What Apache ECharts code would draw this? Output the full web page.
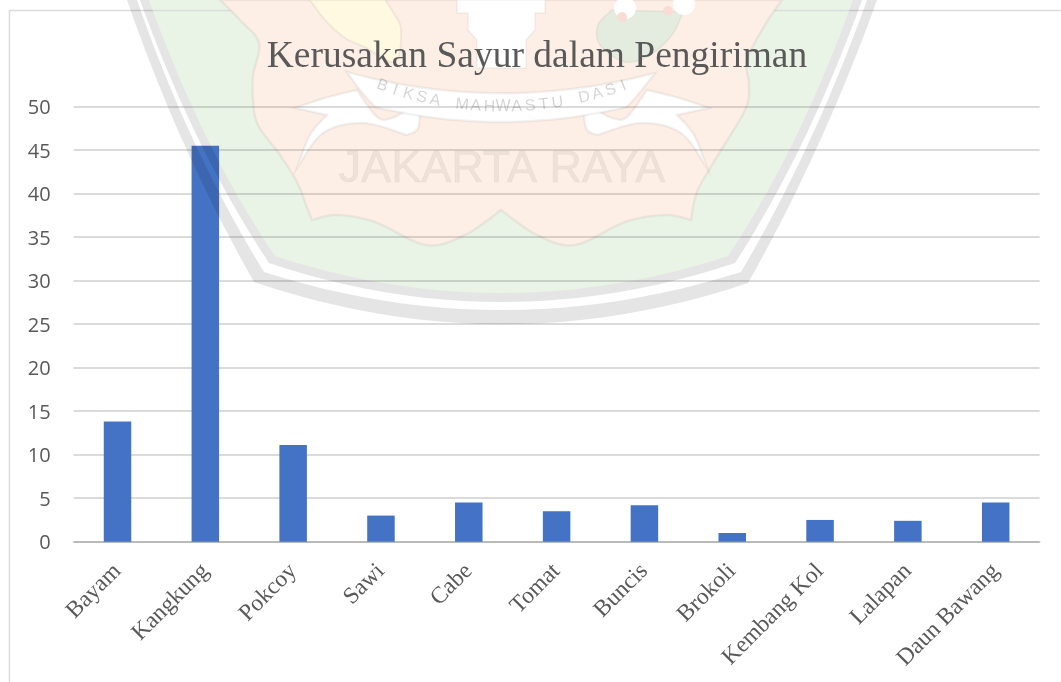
<!DOCTYPE html>
<html>
<head>
<meta charset="utf-8">
<style>html,body{margin:0;padding:0;background:#fff}#c{width:1061px;height:682px}</style>
<script src="https://cdn.jsdelivr.net/npm/echarts@6/dist/echarts.min.js"></script>
</head>
<body>
<div id="c"></div>
<script>
var chartTitle = 'Kerusakan Sayur dalam Pengiriman';
var categories = ['Bayam','Kangkung','Pokcoy','Sawi','Cabe','Tomat','Buncis','Brokoli','Kembang Kol','Lalapan','Daun Bawang'];
var damage = [13.8,45.5,11.1,3,4.5,3.5,4.2,1,2.5,2.4,4.5];
var watermarkName = 'JAKARTA RAYA';
var watermarkMotto = 'BIKSA MAHWASTU DASI';

// --- background watermark helpers (decoration only, no data) ---
function q(a,c,b){var r=[];for(var i=0;i<=24;i++){var t=i/24,u=1-t;r.push([u*u*a[0]+2*u*t*c[0]+t*t*b[0],u*u*a[1]+2*u*t*c[1]+t*t*b[1]]);}return r;}
function cr(p){var r=[];for(var i=0;i<p.length-1;i++){var p0=p[Math.max(i-1,0)],p1=p[i],p2=p[i+1],p3=p[Math.min(i+2,p.length-1)];
  for(var k=0;k<10;k++){var t=k/10,t2=t*t,t3=t2*t;r.push([0,1].map(function(d){return .5*(2*p1[d]+(p2[d]-p0[d])*t+(2*p0[d]-5*p1[d]+4*p2[d]-p3[d])*t2+(3*p1[d]-p0[d]-3*p2[d]+p3[d])*t3);}));}}
  r.push(p[p.length-1]);return r;}
function poly(points,style,z){return {type:'polygon',z:z,silent:true,shape:{points:points},style:style};}
function shield(tl,lc,ll,by,lr,rc,tr){
  return q(tl,lc,ll).concat(q(ll,[501,by],lr).slice(1),q(lr,rc,tr).slice(1));}

var outerA=shield([127,0],[179,150],[254,282],366,[748,283],[823,150],[877,0]);
var outerB=shield([137,0],[189,150],[264,272],348,[741,272],[813,150],[867,0]);
var innerA=shield([140,0],[194,150],[269,263],341,[735,263],[808,150],[862,0]);
var innerB=shield([149,0],[203,150],[275,256],330,[728,256],[799,150],[853,0]);

var orange=cr([[220,0],[240,20],[259,43],[253,75],[253,100],[258,125],[280,155],[297,182],[306,205],[312,220]])
 .concat(cr([[312,220],[337,215],[375,222],[426,245],[465,235],[501,210]]).slice(1))
 .concat(cr([[501,210],[537,235],[575,245],[625,222],[665,215],[691,220]]).slice(1))
 .concat(cr([[691,220],[697,192],[715,160],[745,110],[749,85],[747,60],[765,25],[782,0]]).slice(1));

var tailL=cr([[295,108],[325,98],[357,90]]).concat(cr([[357,90],[377,117],[392,118],[417,107],[418,128],[407,135]]).slice(1)).concat(cr([[407,135],[363,123],[323,133],[297,168]]).slice(1)).concat(cr([[297,168],[310,135],[327,115]]).slice(1));
var tailR=tailL.map(function(p){return [1004-p[0],p[1]];});
var ribbon=q([347,72],[500,114],[655,73]).concat(cr([[655,73],[640,92],[627,107]]).slice(1)).concat(q([627,107],[500,137],[375,107]).slice(1)).concat(cr([[375,107],[360,90],[347,72]]).slice(1));
var pillar=[[457,0],[545,0],[545,13],[535,13],[535,30],[526,40],[526,68],[477,68],[477,40],[468,30],[468,13],[457,13]];
var wheatL=cr([[310,0],[325,20],[345,38],[365,47]]).concat(cr([[365,47],[395,62],[401,30],[393,12],[385,0]]).slice(1));
var leaf=cr([[612,10],[598,25],[600,45],[625,62],[650,55],[672,35],[683,12]]);

var G='rgba(0,0,0,0.05)';
var wm=[
 poly(innerB,{fill:'#E9F4E6'},-5),
 poly(orange,{fill:'#FDEFE6',stroke:G,lineWidth:2.5},-4),
 poly(wheatL,{fill:'#FEF9E0',stroke:G,lineWidth:2},-3),
 poly(leaf,{fill:'#E3ECDF',stroke:G,lineWidth:1.5},-3),
 {type:'circle',z:-3,silent:true,shape:{cx:625,cy:8,r:11},style:{fill:'#fff'}},
 {type:'circle',z:-3,silent:true,shape:{cx:684,cy:4,r:11},style:{fill:'#fff'}},
 {type:'circle',z:-3,silent:true,shape:{cx:622,cy:17,r:5},style:{fill:'#F8DDD6'}},
 {type:'circle',z:-3,silent:true,shape:{cx:668,cy:11,r:5},style:{fill:'#F8DDD6'}},
 poly(pillar,{fill:'#fff',stroke:G,lineWidth:1.5},-3),
 poly(tailL,{fill:'#fff',stroke:G,lineWidth:2.5},-2),
 poly(tailR,{fill:'#fff',stroke:G,lineWidth:2.5},-2),
 poly(ribbon,{fill:'#fff',stroke:G,lineWidth:2.5},-2),
 {type:'text',z:-1,silent:true,style:{text:watermarkName,x:502,y:170,align:'center',verticalAlign:'middle',font:'45px "Liberation Sans"',fill:'rgba(0,0,0,0.055)',stroke:'rgba(0,0,0,0.04)',lineWidth:1}},
 poly(outerA.concat(outerB.slice().reverse()),{fill:'rgba(0,0,0,0.1)'},50),
 poly(innerA.concat(innerB.slice().reverse()),{fill:'rgba(0,0,0,0.1)'},50),
 {type:'rect',z:-5,silent:true,shape:{x:9.5,y:10.5,width:1200,height:900},style:{fill:'none',stroke:'#dcdcdc',lineWidth:1.5}}
];
watermarkMotto.split('').forEach(function(ch,i,arr){
  if(ch===' ')return;
  var a=(i-(arr.length-1)/2)*2.22*Math.PI/180, R=353;
  wm.push({type:'text',z:-1,silent:true,x:503+R*Math.sin(a),y:-246+R*Math.cos(a),rotation:a,
    style:{text:ch,x:0,y:0,align:'center',verticalAlign:'middle',font:'16px "Liberation Sans"',fill:'rgba(0,0,0,0.17)'}});
});

var chart=echarts.init(document.getElementById('c'),null,{renderer:'canvas'});
chart.setOption({
  animation:false,
  backgroundColor:'#fff',
  title:{text:chartTitle,left:532,top:33,textAlign:'center',textStyle:{fontFamily:'"Liberation Serif"',fontSize:37.5,fontWeight:'normal',color:'#595959'}},
  grid:{left:73.6,right:21.4,top:106.5,bottom:140.3,containLabel:false},
  xAxis:{type:'category',data:categories,
    axisLine:{lineStyle:{color:'rgba(0,0,0,0.15)',width:2}},axisTick:{show:false},
    axisLabel:{rotate:45,interval:0,margin:26,fontFamily:'"Liberation Serif"',fontSize:23.5,color:'#595959'}},
  yAxis:{type:'value',min:0,max:50,interval:5,
    axisLine:{show:false},axisTick:{show:false},
    splitLine:{lineStyle:{color:'rgba(0,0,0,0.14)',width:2}},
    axisLabel:{margin:23,formatter:'{v|{value}}',rich:{v:{padding:[4,0,0,0],fontFamily:'"Open Sans"',fontSize:20,color:'#595959'}}}},
  series:[{type:'bar',data:damage,barWidth:27.5,itemStyle:{color:'#4472C4'}}],
  graphic:{elements:wm}
});
</script>
</body>
</html>
